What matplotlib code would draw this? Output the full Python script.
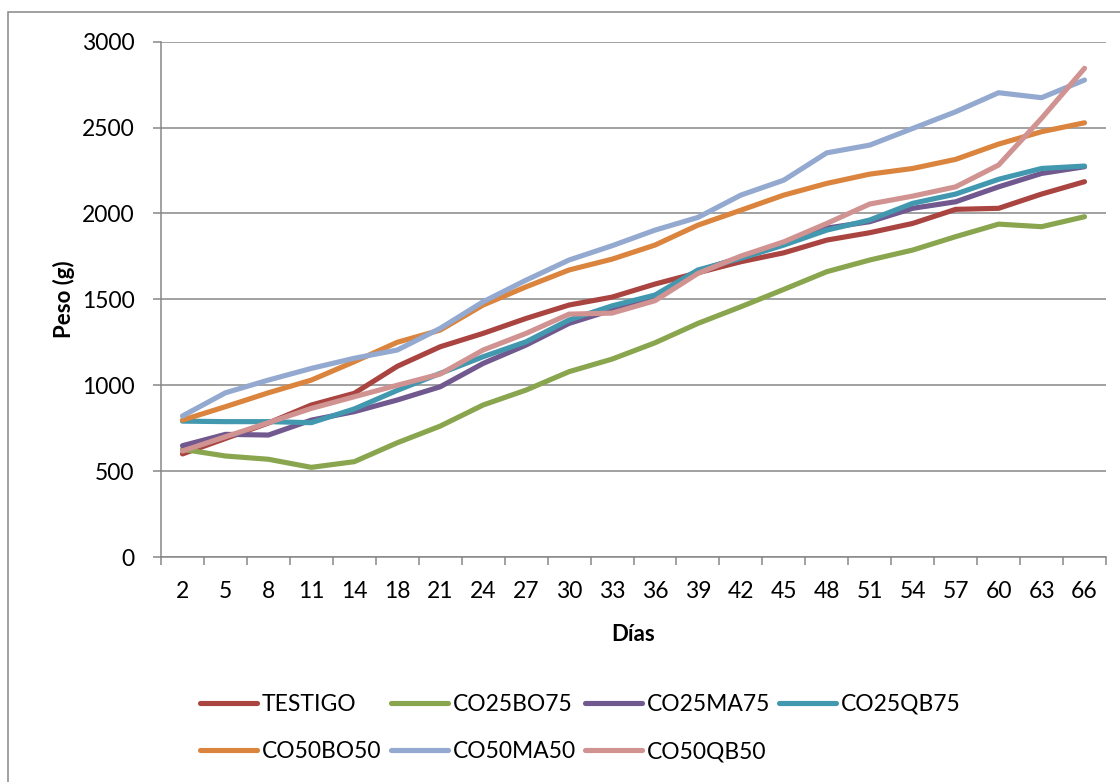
import matplotlib
matplotlib.use("Agg")
import matplotlib.pyplot as plt
from matplotlib.patches import Rectangle

plt.rcParams["font.family"] = ["Lato", "DejaVu Sans"]

dias = [2, 5, 8, 11, 14, 18, 21, 24, 27, 30, 33, 36, 39, 42, 45, 48, 51, 54, 57, 60, 63, 66]

testigo = [600, 690, 780, 885, 953, 1110, 1224, 1302, 1389, 1467, 1513, 1589,
           1655, 1719, 1771, 1845, 1888, 1942, 2024, 2030, 2113, 2185]
co25bo75 = [627, 588, 569, 522, 555, 665, 762, 885, 972, 1079, 1152, 1247,
            1360, 1457, 1558, 1661, 1729, 1787, 1865, 1938, 1923, 1981]
co25ma75 = [648, 714, 710, 797, 846, 914, 991, 1127, 1234, 1360, 1438, 1515,
            1665, 1745, 1825, 1915, 1952, 2030, 2068, 2155, 2233, 2272]
co25qb75 = [791, 788, 788, 782, 862, 970, 1069, 1166, 1253, 1380, 1462, 1525,
            1671, 1739, 1816, 1903, 1962, 2059, 2113, 2199, 2262, 2276]
co50bo50 = [797, 875, 956, 1030, 1137, 1250, 1321, 1467, 1573, 1671, 1734, 1816,
            1932, 2019, 2107, 2175, 2229, 2262, 2315, 2404, 2476, 2528]
co50ma50 = [821, 956, 1030, 1098, 1157, 1205, 1331, 1486, 1612, 1729, 1812, 1903,
            1977, 2107, 2194, 2353, 2398, 2495, 2592, 2703, 2674, 2777]
co50qb50 = [617, 700, 782, 865, 933, 1000, 1065, 1205, 1302, 1414, 1420, 1492,
            1651, 1752, 1835, 1942, 2055, 2101, 2155, 2282, 2554, 2845]

series = [
    ("TESTIGO", testigo, "#A94441"),
    ("CO25BO75", co25bo75, "#89A54E"),
    ("CO25MA75", co25ma75, "#71588F"),
    ("CO25QB75", co25qb75, "#4198AF"),
    ("CO50BO50", co50bo50, "#DB843D"),
    ("CO50MA50", co50ma50, "#93A9CF"),
    ("CO50QB50", co50qb50, "#D19392"),
]

grey = "#878787"

fig = plt.figure(figsize=(11.2, 7.82), dpi=100)
ax = fig.add_axes([161 / 1120, 1 - 557 / 782, 945 / 1120, 515.3 / 782])

# outer chart frame
fig.add_artist(Rectangle((8 / 1120, -0.1), 1.2, 1.1 - 12 / 782,
                         transform=fig.transFigure, fill=False,
                         edgecolor=grey, linewidth=1.1))

x = list(range(len(dias)))
lines = {}
for name, vals, color in series:
    ln, = ax.plot(x, vals, color=color, linewidth=3.7, label=name,
                  solid_capstyle="round", solid_joinstyle="round", zorder=3)
    lines[name] = ln

ax.set_xlim(-0.5, len(dias) - 0.5)
ax.set_ylim(0, 3000)
ax.set_yticks(range(0, 3001, 500))
ax.yaxis.grid(True, color=grey, linewidth=1.1)
ax.set_axisbelow(True)

ax.set_xticks(x)
ax.set_xticklabels([str(d) for d in dias])
ax.set_xticks([i - 0.5 for i in range(len(dias) + 1)], minor=True)
ax.tick_params(axis="x", which="major", length=0, pad=17, labelsize=16.5)
ax.tick_params(axis="x", which="minor", length=6, width=1.1, color=grey)
ax.tick_params(axis="y", length=6, width=1.1, color=grey, pad=13, labelsize=16.5)

for side in ("top", "right"):
    ax.spines[side].set_visible(False)
for side in ("left", "bottom"):
    ax.spines[side].set_color(grey)
    ax.spines[side].set_linewidth(1.1)

ax.set_ylabel("Peso (g)", fontsize=16, fontweight="bold", labelpad=5)
ax.set_xlabel("Días", fontsize=16, fontweight="bold", labelpad=16)

order = ["TESTIGO", "CO50BO50", "CO25BO75", "CO50MA50",
         "CO25MA75", "CO50QB50", "CO25QB75"]
fig.legend([lines[n] for n in order], order, ncol=4,
           loc="upper left", bbox_to_anchor=(200 / 1120, 1 - 694 / 782),
           frameon=False, fontsize=16.5, handlelength=2.5, handletextpad=0.2,
           columnspacing=0.4, labelspacing=1.15, borderpad=0, borderaxespad=0)

fig.savefig("out.png", dpi=100)
